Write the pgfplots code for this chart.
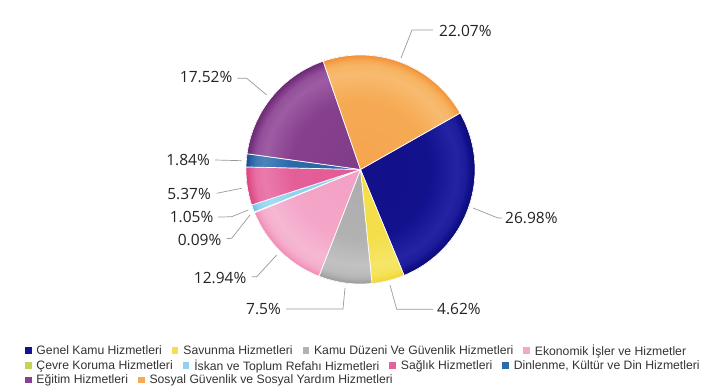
\documentclass[border=0pt]{standalone}
\usepackage{fontspec}
\setmainfont{Liberation Sans}
\newfontfamily\labelfont{Open Sans}
\usepackage{pgfplots}
\usepackage{pgfplotstable}
\pgfplotsset{compat=1.18}

\definecolor{c0}{HTML}{13128F}
\definecolor{c1}{HTML}{F4E04D}
\definecolor{c2}{HTML}{B3B3B3}
\definecolor{c3}{HTML}{F4A7C9}
\definecolor{c4}{HTML}{C5D35A}
\definecolor{c5}{HTML}{8FD3F0}
\definecolor{c6}{HTML}{E5619A}
\definecolor{c7}{HTML}{2E6BAB}
\definecolor{c8}{HTML}{88418F}
\definecolor{c9}{HTML}{F6AB55}
\definecolor{txt}{HTML}{222222}
\definecolor{legtxt}{HTML}{333333}
\definecolor{conn}{HTML}{999999}

\pgfdeclareradialshading{pieshade}{\pgfpoint{0bp}{0bp}}{%
  color(0bp)=(black!56);
  color(15bp)=(black!52);
  color(21bp)=(black!28);
  color(23bp)=(black!38);
  color(24.3bp)=(black!62);
  color(25bp)=(black!75);
  color(50bp)=(black!75)}

\pgfplotstableread{
slice value
0 26.98
1 4.62
2 7.5
3 12.94
4 0.09
5 1.05
6 5.37
7 1.84
8 17.52
9 22.07
}\piedata

\pgfplotsset{
  legrow/.style={
    width=707pt, height=391pt, scale only axis,
    xmin=0, xmax=707, ymin=0, ymax=391,
    hide axis, clip=false,
    legend image code/.code={\fill[##1,draw=none] (0pt,-3.2pt) rectangle (6.5pt,3.2pt);},
    legend style={draw=none, fill=none, inner sep=0pt, outer sep=0pt,
      anchor=west, font=\fontsize{12.2}{14}\selectfont, text=legtxt,
      column sep=0pt, row sep=0pt,
      nodes={inner sep=0pt, outer sep=0pt},
      /tikz/every odd column/.append style={column sep=5pt},
      /tikz/every even column/.append style={column sep=10pt}},
  }
}

\begin{document}
\begin{tikzpicture}
\begin{axis}[legrow, legend columns=4,
  legend style={at={(axis cs:25,40.5)}}]
\path (rel axis cs:0,0) rectangle (rel axis cs:1,1);
\def\startang{29.5}
\pgfplotsforeachungrouped \i in {0,...,9}{%
  \pgfplotstablegetelem{\i}{value}\of\piedata
  \pgfmathsetmacro\endang{\startang-3.6*\pgfplotsretval}%
  \gdef\pts{(360.5,221.5)}%
  \foreach \k in {0,...,60}{%
    \pgfmathsetmacro\ang{\startang+(\endang-\startang)*\k/60}%
    \pgfmathsetmacro\px{360.5+114.5*cos(\ang)}%
    \pgfmathsetmacro\py{221.5+114.5*sin(\ang)}%
    \xdef\pts{\pts (\px,\py)}%
  }%
  \edef\cmd{\noexpand\addplot[fill=c\i, draw=white, line width=0.7pt] coordinates {\pts (360.5,221.5)};}%
  \cmd
  \global\let\startang\endang
}
\legend{Genel Kamu Hizmetleri, Savunma Hizmetleri, Kamu Düzeni Ve Güvenlik Hizmetleri, Ekonomik İşler ve Hizmetler}

\shade[shading=pieshade, blend mode=soft light] (axis cs:360.5,221.5) circle[radius=114.5pt];

% connectors
\addplot[conn, line width=0.7pt, forget plot] coordinates {(401,333) (412,361) (433,361)};
\addplot[conn, line width=0.7pt, forget plot] coordinates {(473,183) (498,173) (502,173)};
\addplot[conn, line width=0.7pt, forget plot] coordinates {(390,106) (396.7,81.7) (433,81.7)};
\addplot[conn, line width=0.7pt, forget plot] coordinates {(345,103) (343,82) (286,82)};
\addplot[conn, line width=0.7pt, forget plot] coordinates {(276.7,136) (256.7,114.3) (251.7,114.3)};
\addplot[conn, line width=0.7pt, forget plot] coordinates {(250,176) (231.7,152.7) (226.7,152.3)};
\addplot[conn, line width=0.7pt, forget plot] coordinates {(248.3,181) (231.7,174.3) (218.3,173.9)};
\addplot[conn, line width=0.7pt, forget plot] coordinates {(241.7,202.7) (216.7,197.7)};
\addplot[conn, line width=0.7pt, forget plot] coordinates {(241.7,230.3) (215,231)};
\addplot[conn, line width=0.7pt, forget plot] coordinates {(266.7,296) (246.7,312.7) (237.3,312.7)};

% labels
\begin{scope}[every node/.style={inner sep=0pt, text=txt, font=\labelfont\fontsize{15.5}{18}\selectfont}]
\node[anchor=west] at (axis cs:439,360.5) {22.07\%};
\node[anchor=west] at (axis cs:505,173.5) {26.98\%};
\node[anchor=west] at (axis cs:437,82) {4.62\%};
\node[anchor=east] at (axis cs:281,82) {7.5\%};
\node[anchor=east] at (axis cs:246.5,113.5) {12.94\%};
\node[anchor=east] at (axis cs:221.5,151.5) {0.09\%};
\node[anchor=east] at (axis cs:213.5,173.7) {1.05\%};
\node[anchor=east] at (axis cs:211,197.3) {5.37\%};
\node[anchor=east] at (axis cs:210,230.5) {1.84\%};
\node[anchor=east] at (axis cs:232.5,313.5) {17.52\%};
\end{scope}
\end{axis}

\begin{axis}[legrow, legend columns=4,
  legend style={at={(axis cs:25,25.5)}}]
\addlegendimage{fill=c4}\addlegendentry{Çevre Koruma Hizmetleri}
\addlegendimage{fill=c5}\addlegendentry{İskan ve Toplum Refahı Hizmetleri}
\addlegendimage{fill=c6}\addlegendentry{Sağlık Hizmetleri}
\addlegendimage{fill=c7}\addlegendentry{Dinlenme, Kültür ve Din Hizmetleri}
\end{axis}

\begin{axis}[legrow, legend columns=2,
  legend style={at={(axis cs:25,11)}}]
\addlegendimage{fill=c8}\addlegendentry{Eğitim Hizmetleri}
\addlegendimage{fill=c9}\addlegendentry{Sosyal Güvenlik ve Sosyal Yardım Hizmetleri}
\end{axis}
\end{tikzpicture}
\end{document}
